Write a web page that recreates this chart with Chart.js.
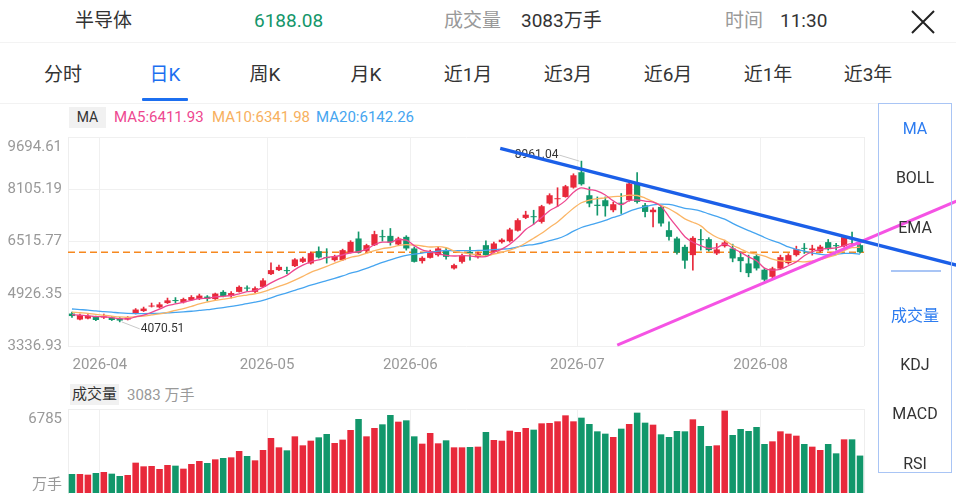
<!DOCTYPE html>
<html lang="zh-CN">
<head>
<meta charset="utf-8">
<title>半导体 日K</title>
<script src="https://cdn.jsdelivr.net/npm/chart.js@4.4.1/dist/chart.umd.min.js"></script>
<style>
  html, body { margin: 0; padding: 0; }
  body { width: 956px; height: 500px; position: relative; overflow: hidden; background: #fff;
         font-family: Roboto, "Noto Sans CJK SC", sans-serif; color: #333; }
  .t { position: absolute; white-space: nowrap; line-height: 1; }
  canvas { position: absolute; left: 0; }
  #price { top: 128px; }
  #volume { top: 380px; }
  .head { top: 11px; font-size: 19px; }
  .gray { color: #999; }
  .headbar { position: absolute; left: 0; top: 42px; width: 956px; height: 1px; background: #f3f3f3; }
  .tab { top: 65px; width: 100px; text-align: center; font-size: 19px; }
  .tab.on { color: #1c6ff0; }
  .tabline { position: absolute; left: 142px; top: 98px; width: 46px; height: 3px; background: #1c6ff0; border-radius: 1px; }
  .tabbar { position: absolute; left: 0; top: 103px; width: 878px; height: 1px; background: #f2f2f2; }
  .chip { position: absolute; background: #f1f1f1; color: #333; font-size: 14px; line-height: 21px; text-align: center; }
  .legend { top: 110px; font-size: 15px; }
  .panel { position: absolute; left: 878px; top: 103px; width: 74px; height: 370px; box-sizing: border-box;
           border: 1px solid #a9c5f5; z-index: 2; }
  .panel .t { left: 0; width: 72px; text-align: center; font-size: 16px; }
  .panel .blue { color: #2d7cf0; }
  .panel .sep { position: absolute; left: 12px; top: 166px; width: 50px; height: 2px; background: #a9c5f5; }
</style>
</head>
<body>

<div class="t head" style="left:75px">半导体</div>
<div class="t head" style="left:254px;color:#13966a" id="lastPrice"></div>
<div class="t head gray" style="left:444px">成交量</div>
<div class="t head" style="left:521px" id="lastVol"></div>
<div class="t head gray" style="left:725px">时间</div>
<div class="t head" style="left:780px">11:30</div>
<svg style="position:absolute;left:909px;top:8px" width="28" height="28" viewBox="0 0 28 28">
  <path d="M3 3 L25 25 M25 3 L3 25" stroke="#222" stroke-width="2" fill="none"/>
</svg>
<div class="headbar"></div>

<div class="t tab" style="left:13px">分时</div>
<div class="t tab on" style="left:115px">日K</div>
<div class="t tab" style="left:215px">周K</div>
<div class="t tab" style="left:316px">月K</div>
<div class="t tab" style="left:418px">近1月</div>
<div class="t tab" style="left:518px">近3月</div>
<div class="t tab" style="left:618px">近6月</div>
<div class="t tab" style="left:718px">近1年</div>
<div class="t tab" style="left:818px">近3年</div>
<div class="tabline"></div>
<div class="tabbar"></div>

<div class="chip" style="left:69px;top:107px;width:37px;height:21px">MA</div>
<div class="t legend" style="left:114px;color:#ee4790" id="ma5Text"></div>
<div class="t legend" style="left:212px;color:#f7b05e" id="ma10Text"></div>
<div class="t legend" style="left:316px;color:#46a5f0" id="ma20Text"></div>

<canvas id="price" width="956" height="252"></canvas>

<div class="chip" style="left:70px;top:384px;width:49px;height:21px;font-size:15px">成交量</div>
<div class="t gray" style="left:127px;top:388px;font-size:15px" id="volText"></div>

<canvas id="volume" width="956" height="120"></canvas>

<div class="panel">
  <div class="t blue" style="top:17px">MA</div>
  <div class="t" style="top:66px">BOLL</div>
  <div class="t" style="top:116px">EMA</div>
  <div class="sep"></div>
  <div class="t blue" style="top:204px">成交量</div>
  <div class="t" style="top:253px">KDJ</div>
  <div class="t" style="top:302px">MACD</div>
  <div class="t" style="top:352px">RSI</div>
</div>

<script>
// 日K 数据 (2026-03-26 起 100 个交易日)
const opens = [4324,4142,4172,4233,4203,4203,4172,4142,4324,4400,
  4537,4512,4643,4734,4664,4734,4764,4840,4764,4983,
  4856,4983,5114,4983,5135,5524,5645,5636,5767,5897,
  5849,6222,6025,5949,5949,6177,6608,6231,6404,6678,
  6687,6426,6657,6304,5919,6019,6101,6253,5697,5897,
  6201,6049,6404,6201,6496,6526,6845,7234,7285,7112,
  7671,7802,7871,8157,8622,7923,7634,7771,7467,7695,
  7771,8278,7619,7407,7568,6860,6608,6353,6101,6578,
  6587,6152,6374,6304,6040,5849,6070,5657,5442,5691,
  5858,6101,6313,6253,6222,6496,6383,6374,6617,6404];
const highs = [4370,4309,4294,4248,4309,4233,4203,4233,4476,4521,
  4643,4658,4795,4810,4795,4871,4916,4871,4947,5023,
  4992,5171,5171,5135,5387,5867,5797,5736,5994,6040,
  6192,6353,6298,6101,6283,6541,6808,6435,6830,6860,
  6912,6648,6693,6349,6055,6253,6359,6313,5827,6131,
  6344,6192,6535,6496,6602,6921,7209,7437,7467,7619,
  7969,8151,8227,8576,8961.04,8175,7871,7871,7710,7975,
  8318,8612,7680,7543,7619,7112,6648,6404,6663,6881,
  6632,6456,6556,6435,6201,6101,6131,5697,5736,6101,
  6146,6374,6456,6404,6404,6578,6461,6678,6799,6450];
const lows = [4203,4127,4157,4111,4172,4111,4070.51,4127,4309,4385,
  4521,4491,4628,4643,4643,4719,4749,4704,4749,4831,
  4795,4977,5007,4962,5126,5508,5630,5539,5751,5873,
  5827,6010,5858,5919,5934,6162,6162,6192,6389,6526,
  6404,6404,6253,5888,5858,6010,6070,5979,5676,5858,
  5949,6010,6070,6162,6465,6496,6830,7209,7042,7073,
  7650,7574,7862,8136,8227,7568,7316,7285,7416,7367,
  7741,7680,7264,6960,6982,6556,6131,5697,5645,6253,
  6222,6116,6344,5897,5594,5442,5645,5302,5408,5676,
  5827,6070,6152,6101,6192,6253,6253,6344,6404,6162];
const closes = [4248,4278,4248,4127,4233,4127,4111,4203,4446,4476,
  4567,4603,4725,4704,4764,4825,4871,4770,4931,4846,
  4947,5135,5083,5095,5332,5645,5745,5615,5970,6000,
  6162,6031,6010,6070,6253,6505,6183,6404,6739,6648,
  6487,6608,6304,5897,6019,6201,6304,6049,5797,6092,
  6146,6152,6101,6456,6571,6881,7164,7331,7255,7589,
  7923,7832,8196,8530,8257,7671,7598,7589,7650,7665,
  8278,7720,7416,7483,7064,6657,6177,5934,6626,6556,
  6253,6274,6487,6000,5919,5554,5697,5354,5697,6040,
  6101,6283,6292,6304,6359,6283,6374,6648,6587,6188.08];
// 成交量 (万手)
const volumes = [1565,1565,1510,1648,1730,1593,1400,1483,2499,2197,
  2224,1977,2307,2252,2005,2389,2636,2471,2773,2883,
  2938,3460,3048,2691,3542,4531,3762,3515,4668,3927,
  4311,4586,4860,4119,4394,5190,6096,4668,5355,5657,
  6426,5876,5986,4668,4064,4943,4092,4339,3762,3762,
  3789,3817,5025,4366,4311,5135,5025,5355,5217,5739,
  5767,5904,6398,5904,6206,5684,5080,4888,4613,5300,
  5684,6618,5794,5629,4833,4613,5108,5080,6069,5519,
  3872,3927,6785,4778,5272,5108,5437,4037,4256,5080,
  4888,4723,4037,3817,3542,4037,3268,4421,4421,3083];
// 窗口之前的收盘价 (由均线起点估计, 仅用于计算均线)
const preCloses = [4620,4580,4650,4590,4520,4560,4500,4540,4480,4510,
  4490,4460,4430,4450,4420,4360,4310,4280,4250];

const maLegend = [6411.93, 6341.98, 6142.26];
const yTicks = [3336.93, 4926.35, 6515.77, 8105.19, 9694.61];
const monthLabels = ['2026-04', '2026-05', '2026-06', '2026-07', '2026-08'];
const monthFirstBar = [4, 25, 43, 64, 87];
const volAxisMax = 6920;

// 画线 (bar index, price)
const trendDownX = [53.8, 111.1];
const trendDownY = [9350, 5800];
const trendUpX = [68.5, 111.1];
const trendUpY = [3361, 7744];

const RED = '#e8293b', GREEN = '#12976b';
const FONT = 'Roboto, "Noto Sans CJK SC", sans-serif';
Chart.defaults.font.family = FONT;

const lastIdx = closes.length - 1;
document.getElementById('lastPrice').textContent = closes[lastIdx].toFixed(2);
document.getElementById('lastVol').textContent = volumes[lastIdx] + '万手';
document.getElementById('volText').textContent = volumes[lastIdx] + ' 万手';
document.getElementById('ma5Text').textContent = 'MA5:' + maLegend[0].toFixed(2);
document.getElementById('ma10Text').textContent = 'MA10:' + maLegend[1].toFixed(2);
document.getElementById('ma20Text').textContent = 'MA20:' + maLegend[2].toFixed(2);

const candleColors = closes.map((c, i) => c >= opens[i] ? RED : GREEN);
const allCloses = preCloses.concat(closes);

function movingAverage(n) {
  return closes.map((_, i) => {
    const end = i + preCloses.length;
    let sum = 0;
    for (let k = end - n + 1; k <= end; k++) sum += allCloses[k];
    return { x: i, y: sum / n };
  });
}

const pairs = (xs, ys) => xs.map((x, i) => ({ x: x, y: ys[i] }));

const monthTicks = scale => { scale.ticks = monthFirstBar.map(i => ({ value: i - 0.5 })); };

// 右边框
const plotFrame = {
  id: 'plotFrame',
  beforeDatasetsDraw(chart) {
    const { ctx, chartArea: a } = chart;
    ctx.save();
    ctx.strokeStyle = '#eeeeee';
    ctx.lineWidth = 1;
    ctx.beginPath();
    ctx.moveTo(a.right + 0.5, a.top);
    ctx.lineTo(a.right + 0.5, a.bottom);
    ctx.stroke();
    ctx.restore();
  }
};

// 最高 / 最低价标注
const extremaLabels = {
  id: 'extremaLabels',
  beforeDatasetsDraw(chart) {
    const { ctx, scales: { x, y } } = chart;
    const hi = highs.indexOf(Math.max(...highs));
    const lo = lows.indexOf(Math.min(...lows));
    ctx.save();
    ctx.font = '12px ' + FONT;
    ctx.strokeStyle = '#c9c9c9';
    ctx.lineWidth = 1;
    ctx.fillStyle = '#333';
    ctx.textBaseline = 'middle';

    let px = x.getPixelForValue(hi), py = y.getPixelForValue(highs[hi]);
    ctx.beginPath();
    ctx.moveTo(px - 2, py);
    ctx.lineTo(px - 22, py - 6);
    ctx.stroke();
    ctx.textAlign = 'right';
    ctx.fillText(highs[hi].toFixed(2), px - 23, py - 6);

    px = x.getPixelForValue(lo); py = y.getPixelForValue(lows[lo]);
    ctx.beginPath();
    ctx.moveTo(px + 2, py);
    ctx.lineTo(px + 20, py + 7);
    ctx.stroke();
    ctx.textAlign = 'left';
    ctx.fillText(lows[lo].toFixed(2), px + 21, py + 7);
    ctx.restore();
  }
};

// 顶部刻度文字画在线下面
const topTickLabel = {
  id: 'topTickLabel',
  afterDraw(chart) {
    const { ctx, chartArea: a, scales: { y } } = chart;
    const top = yTicks[yTicks.length - 1];
    ctx.save();
    ctx.font = '15px ' + FONT;
    ctx.fillStyle = '#999';
    ctx.textAlign = 'right';
    ctx.textBaseline = 'middle';
    ctx.fillText(top.toFixed(2), a.left - 6, y.getPixelForValue(top) + 10);
    ctx.restore();
  }
};

new Chart(document.getElementById('price'), {
  type: 'bar',
  data: {
    datasets: [
      { type: 'line', label: '压力线', data: pairs(trendDownX, trendDownY), borderColor: '#1b5fe8',
        borderWidth: 3.5, pointRadius: 0, clip: false, order: 0 },
      { type: 'line', label: '支撑线', data: pairs(trendUpX, trendUpY), borderColor: '#f553e4',
        borderWidth: 3, pointRadius: 0, clip: false, order: 0 },
      { type: 'line', label: 'MA5', data: movingAverage(5), borderColor: '#ee4790', borderWidth: 1.3,
        pointRadius: 0, cubicInterpolationMode: 'monotone', order: 1 },
      { type: 'line', label: 'MA10', data: movingAverage(10), borderColor: '#fbb565', borderWidth: 1.3,
        pointRadius: 0, cubicInterpolationMode: 'monotone', order: 1 },
      { type: 'line', label: 'MA20', data: movingAverage(20), borderColor: '#46a5f0', borderWidth: 1.3,
        pointRadius: 0, cubicInterpolationMode: 'monotone', order: 1 },
      { label: '实体', data: opens.map((o, i) => ({ x: i, y: [o, closes[i]] })),
        backgroundColor: candleColors, barPercentage: 0.78, categoryPercentage: 1,
        grouped: false, minBarLength: 1, order: 2 },
      { label: '影线', data: lows.map((l, i) => ({ x: i, y: [l, highs[i]] })),
        backgroundColor: candleColors, barThickness: 1, grouped: false, order: 3 },
      { type: 'line', label: '现价', data: [{ x: -0.5, y: closes[lastIdx] }, { x: 99.5, y: closes[lastIdx] }],
        borderColor: '#f6881f', borderWidth: 1.5, borderDash: [7, 4], pointRadius: 0, order: 4 }
    ]
  },
  options: {
    responsive: false,
    animation: false,
    layout: { padding: { top: 9, right: 92, left: 0, bottom: 0 } },
    plugins: { legend: { display: false }, tooltip: { enabled: false } },
    scales: {
      x: {
        type: 'linear', min: -0.5, max: 99.5, offset: false,
        grid: { color: '#f0f0f0', drawTicks: false, offset: false },
        border: { display: false },
        ticks: { autoSkip: false, maxRotation: 0, color: '#999', font: { size: 15 }, padding: 10,
                 callback: (v, i) => monthLabels[i] },
        afterBuildTicks: monthTicks,
        afterFit: s => { s.height = 34; s.paddingLeft = 0; s.paddingRight = 0; }
      },
      y: {
        type: 'linear', min: yTicks[0], max: yTicks[yTicks.length - 1],
        grid: { color: '#f0f0f0', drawTicks: false },
        border: { display: true, color: '#eeeeee' },
        ticks: { color: '#999', font: { size: 15 }, padding: 6,
                 callback: v => v === yTicks[yTicks.length - 1] ? '' : v.toFixed(2) },
        afterBuildTicks: s => { s.ticks = yTicks.map(v => ({ value: v })); },
        afterFit: s => { s.width = 68; s.paddingTop = 0; s.paddingBottom = 0; }
      }
    }
  },
  plugins: [plotFrame, extremaLabels, topTickLabel]
});

// 成交量刻度文字
const volTickLabels = {
  id: 'volTickLabels',
  afterDraw(chart) {
    const { ctx, chartArea: a, scales: { y } } = chart;
    ctx.save();
    ctx.font = '15px ' + FONT;
    ctx.fillStyle = '#999';
    ctx.textAlign = 'right';
    ctx.textBaseline = 'middle';
    ctx.fillText(String(Math.max(...volumes)), a.left - 6, y.getPixelForValue(volAxisMax) + 10);
    ctx.fillText('万手', a.left - 6, a.bottom - 8);
    ctx.restore();
  }
};

new Chart(document.getElementById('volume'), {
  type: 'bar',
  data: {
    datasets: [{
      label: '成交量',
      data: volumes.map((v, i) => ({ x: i, y: v })),
      backgroundColor: candleColors,
      barPercentage: 0.82, categoryPercentage: 1
    }]
  },
  options: {
    responsive: false,
    animation: false,
    layout: { padding: { top: 29, right: 92, left: 0, bottom: 7 } },
    plugins: { legend: { display: false }, tooltip: { enabled: false } },
    scales: {
      x: {
        type: 'linear', min: -0.5, max: 99.5, offset: false,
        grid: { color: '#f0f0f0', drawTicks: false, offset: false },
        border: { display: false },
        ticks: { display: false },
        afterBuildTicks: monthTicks,
        afterFit: s => { s.height = 0; }
      },
      y: {
        min: 0, max: volAxisMax,
        grid: { color: '#eeeeee', drawTicks: false },
        border: { display: true, color: '#eeeeee' },
        ticks: { display: false },
        afterBuildTicks: s => { s.ticks = [{ value: volAxisMax }]; },
        afterFit: s => { s.width = 68; s.paddingTop = 0; s.paddingBottom = 0; }
      }
    }
  },
  plugins: [plotFrame, volTickLabels]
});
</script>
</body>
</html>
